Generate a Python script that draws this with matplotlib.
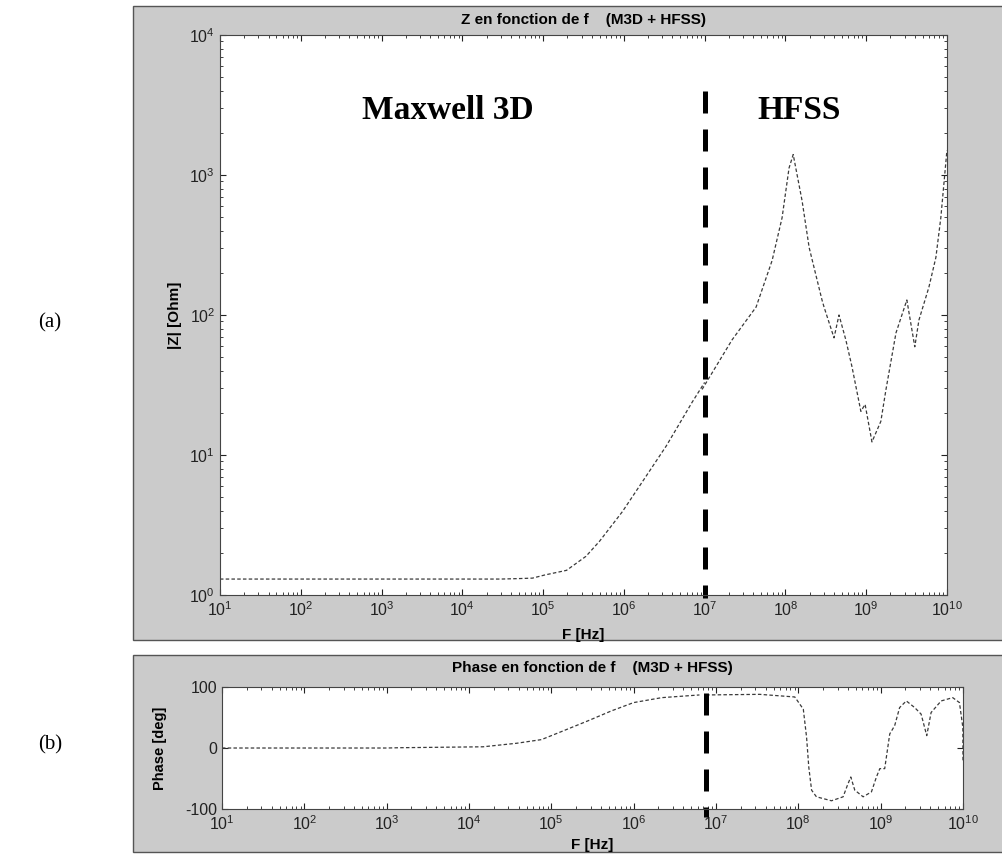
import matplotlib
matplotlib.use("Agg")
import matplotlib.pyplot as plt
from matplotlib.patches import Rectangle
from matplotlib.ticker import LogLocator, NullFormatter

plt.rcParams["font.family"] = ["Liberation Sans", "DejaVu Sans"]
plt.rcParams["axes.unicode_minus"] = False

# |Z| - Maxwell 3D part
f_m3d = [1e1, 1e2, 1e3, 1e4, 3e4, 5e4, 7.4e4, 1.05e5, 1.95e5, 3.4e5, 5e5,
         9.6e5, 1.7e6, 3.35e6, 7e6, 1e7]
z_m3d = [1.3, 1.3, 1.3, 1.3, 1.3, 1.31, 1.32, 1.39, 1.5, 1.89, 2.42,
         3.94, 6.45, 11.6, 23.8, 33]

# |Z| - HFSS part
f_hfss = [9.3e6, 2.19e7, 4.34e7, 6.85e7, 9.1e7, 1.11e8, 1.25e8, 1.61e8, 1.97e8,
          2.84e8, 3.01e8, 4.0e8, 4.61e8, 5.6e8, 6.67e8, 8.6e8, 9.7e8, 1.18e9,
          1.52e9, 1.76e9, 2.34e9, 3.19e9, 4.0e9, 4.5e9, 5.98e9, 7.3e9, 8.4e9, 1e10]
z_hfss = [29.4, 66.5, 114, 245, 495, 1122, 1400, 654, 303,
          128, 114, 68.7, 100, 66.5, 42.8, 20.5, 23, 12.4,
          17.4, 29.4, 74.5, 128, 59.3, 92, 158, 258, 495, 1500]

# phase - Maxwell 3D part
f_ph_m3d = [1e1, 1e2, 1e3, 1.45e3, 1.48e4, 3.8e4, 7.6e4, 1.26e5, 2.8e5, 5.4e5,
            1e6, 2.2e6, 6.3e6]
ph_m3d = [0, 0, 0, 0.5, 2, 7.8, 13.8, 25.7, 44.7, 61, 74.5, 82.6, 87]

# phase - HFSS part
f_ph_hfss = [7.6e6, 3.4e7, 9.06e7, 1.15e8, 1.26e8, 1.34e8, 1.45e8, 1.66e8, 2.53e8,
             3.5e8, 3.95e8, 4.34e8, 4.85e8, 6.13e8, 7.73e8, 8.89e8, 9.77e8, 1.12e9,
             1.29e9, 1.48e9, 1.7e9, 2.05e9, 2.59e9, 3.1e9, 3.63e9, 4.1e9, 5.43e9,
             7.5e9, 9.06e9, 9.96e9, 1e10]
ph_hfss = [87, 88, 83.7, 63.7, 17.6, -31.2, -69.1, -80, -86.5,
           -80, -61, -47.5, -69.1, -80, -71.9, -47.5, -33.8, -33.8,
           23.1, 36.6, 66.3, 77.2, 66.3, 55.6, 20.3, 58.2, 77.2,
           82.6, 74.5, 33.8, -20.3]

# limite M3D / HFSS
f_split_z = 1e7
f_split_ph = 7.6e6

fig = plt.figure(figsize=(10.03, 8.56), dpi=100)
gray = "#cbcbcb"
fig.add_artist(Rectangle((0.1326, 0.2523), 0.8674, 0.7407, transform=fig.transFigure,
                         facecolor=gray, edgecolor="#555555", lw=1, zorder=-1))
fig.add_artist(Rectangle((0.1326, 0.0047), 0.8674, 0.2300, transform=fig.transFigure,
                         facecolor=gray, edgecolor="#555555", lw=1, zorder=-1))

line_kw = dict(color="#3a3a3a", lw=0.9, dashes=(2.8, 1.8))
split_kw = dict(color="black", lw=3.6, dashes=(4.4, 3.2), clip_on=False)


def style_axis(ax):
    ax.set_xscale("log")
    ax.set_xlim(1e1, 1e10)
    ax.xaxis.set_major_locator(LogLocator(base=10, numticks=20))
    ax.xaxis.set_minor_locator(LogLocator(base=10, subs=range(2, 10), numticks=200))
    ax.xaxis.set_minor_formatter(NullFormatter())
    ax.tick_params(which="both", direction="in", top=True, right=True,
                   labelsize=11.5, colors="#222222")
    ax.tick_params(which="major", length=4.5)
    ax.tick_params(which="minor", length=2.5)
    for s in ax.spines.values():
        s.set_color("#444444")
        s.set_linewidth(0.8)


# (a) module
ax1 = fig.add_axes([0.2193, 0.3049, 0.7248, 0.6542])
style_axis(ax1)
ax1.set_yscale("log")
ax1.set_ylim(1, 1e4)
ax1.yaxis.set_minor_locator(LogLocator(base=10, subs=range(2, 10), numticks=200))
ax1.yaxis.set_minor_formatter(NullFormatter())
ax1.plot(f_m3d, z_m3d, **line_kw)
ax1.plot(f_hfss, z_hfss, **line_kw)
ax1.plot([f_split_z, f_split_z], [4000, 0.95], **split_kw)
ax1.text(0.5, 1.027, "Z en fonction de f    (M3D + HFSS)", transform=ax1.transAxes,
         ha="center", va="center", fontsize=11, fontweight="bold")
ax1.set_xlabel("F [Hz]", fontsize=11, fontweight="bold")
ax1.xaxis.set_label_coords(0.5, -0.059)
ax1.set_ylabel("|Z| [Ohm]", fontsize=11, fontweight="bold")
ax1.yaxis.set_label_coords(-0.052, 0.5)
ax1.text(0.313, 0.865, "Maxwell 3D", transform=ax1.transAxes, ha="center", va="center",
         family="Liberation Serif", fontsize=24, fontweight="bold")
ax1.text(0.797, 0.865, "HFSS", transform=ax1.transAxes, ha="center", va="center",
         family="Liberation Serif", fontsize=24, fontweight="bold")

# (b) phase
ax2 = fig.add_axes([0.2213, 0.0549, 0.7388, 0.1425])
style_axis(ax2)
ax2.set_ylim(-100, 100)
ax2.set_yticks([-100, 0, 100])
ax2.plot(f_ph_m3d, ph_m3d, **line_kw)
ax2.plot(f_ph_hfss, ph_hfss, **line_kw)
ax2.plot([f_split_ph, f_split_ph], [90, -113], **split_kw)
ax2.text(0.5, 1.156, "Phase en fonction de f    (M3D + HFSS)", transform=ax2.transAxes,
         ha="center", va="center", fontsize=11, fontweight="bold")
ax2.set_xlabel("F [Hz]", fontsize=11, fontweight="bold")
ax2.xaxis.set_label_coords(0.5, -0.24)
ax2.set_ylabel("Phase [deg]", fontsize=10.5, fontweight="bold")
ax2.yaxis.set_label_coords(-0.074, 0.5)

fig.text(0.050, 1 - 323 / 856, "(a)", ha="center", va="center",
         family="Liberation Serif", fontsize=15)
fig.text(0.050, 1 - 745 / 856, "(b)", ha="center", va="center",
         family="Liberation Serif", fontsize=15)

fig.savefig("out.png", dpi=100)
